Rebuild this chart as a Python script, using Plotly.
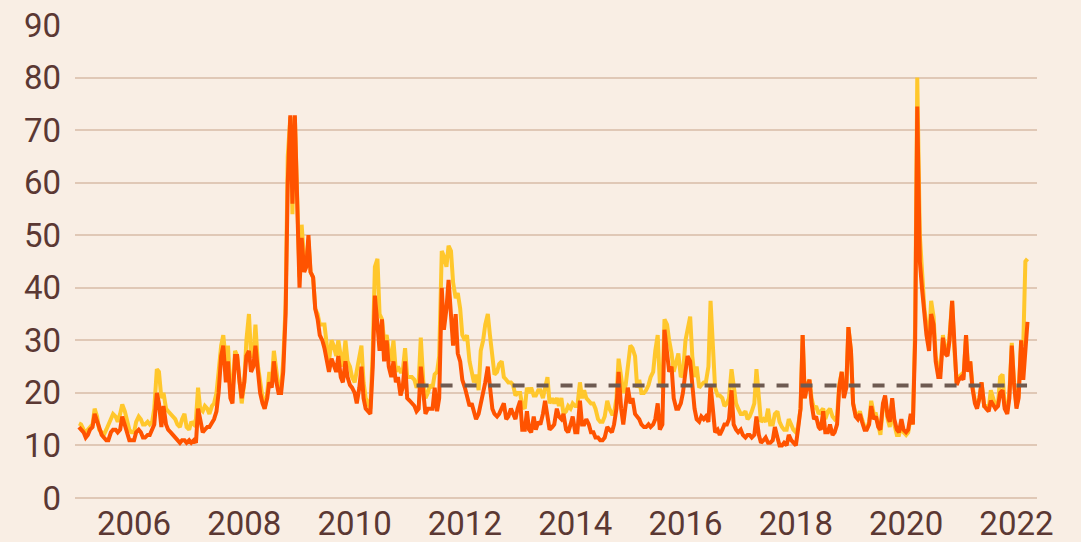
import pandas as pd
import plotly.graph_objects as go

# Semi-monthly readings (1st and 15th of each month), Jan 2005 - Mar 2022
yellow_2005 = [14.2, 14, 13, 12.5, 13, 13.5, 14, 17, 15.5, 13, 12.5, 12, 13, 14, 15, 16, 15.5, 14.5, 16, 17.8, 16.5, 14.5, 13, 12.5]
orange_2005 = [13.5, 13, 12.5, 11.5, 12, 13, 13.5, 16, 14.5, 13, 12, 11.5, 11, 11, 12.5, 13, 13, 12.5, 13, 15.5, 14, 12.5, 11, 11]
yellow_2006 = [12.5, 14.5, 15.5, 15, 14, 14, 14.5, 14, 14.5, 17, 24.5, 24, 19, 20, 17, 16.5, 16, 15.5, 15, 14, 13.5, 15, 16, 13.5]
orange_2006 = [11, 12.5, 13, 12.5, 11.5, 11.5, 12, 12, 13, 14, 20, 18, 13.5, 17.5, 14, 13, 12.5, 12, 11.5, 11, 10.5, 11, 11, 10.5]
yellow_2007 = [13, 14.5, 14, 15, 21, 17, 16.5, 17.5, 17, 16, 17.5, 18, 20, 24, 29, 31, 26, 29, 21, 20, 28, 27, 23, 18]
orange_2007 = [11, 10.5, 11, 10.5, 17, 15, 12.5, 13, 13.5, 13.5, 14.5, 15, 16.5, 20, 27, 29, 22, 26, 19, 18, 27, 27, 22, 19]
yellow_2008 = [22, 30, 35, 27, 27, 33, 25, 22, 19, 17, 20, 24, 22, 28, 24, 21, 21, 26, 37, 65, 72.5, 54, 72.5, 55]
orange_2008 = [22, 27, 28, 24, 25, 29, 24, 20, 18, 17, 19, 22, 21, 26, 22, 20, 20, 24, 35, 60, 72.8, 56, 72.8, 60]
yellow_2009 = [42, 52, 45, 44, 49, 43, 42, 36, 35, 33, 33, 33, 29, 26, 30, 29, 27, 30, 27, 25, 30, 26, 25, 23]
orange_2009 = [40, 49.5, 43, 44, 50, 43, 42, 36, 34, 31, 30, 28.5, 26, 24, 26.5, 25.5, 24, 27, 23, 22, 26, 23, 21.5, 21]
yellow_2010 = [22, 24, 27, 29, 22, 19, 18, 17, 28, 44, 45.5, 35, 34, 30, 31, 28, 26, 30, 24, 25, 24, 24, 28.5, 23]
orange_2010 = [20, 18, 21, 25, 19, 17, 16.5, 16, 25, 38.5, 33, 28, 34, 26, 30, 25, 23, 26, 22, 23, 19.5, 21, 26, 19]
yellow_2011 = [23, 23, 22.5, 21, 22, 30.5, 22, 19, 20, 21.5, 21, 23.5, 24, 27, 47, 46, 44, 48, 47, 41, 38, 39, 36, 31]
orange_2011 = [18.5, 18, 17.5, 16.5, 17, 25, 19, 16, 17, 17, 17, 21, 16.5, 19, 40, 32, 36, 41.5, 34, 29, 35, 27.5, 26, 22.5]
yellow_2012 = [30, 31, 26, 24, 22, 23.5, 20.5, 28, 30, 33, 35, 31, 26, 23.5, 24, 25.5, 26, 23, 22.5, 22, 22, 21.5, 19.5, 20]
orange_2012 = [21, 19, 17.5, 18, 16, 15, 16, 18, 19.5, 22, 25, 21, 17, 16, 15.5, 16, 17, 18, 15, 15.5, 17, 16, 15, 17]
yellow_2013 = [20, 17.5, 17, 21, 20, 21, 19.5, 19.5, 20.5, 20.5, 19, 21, 23, 18, 19, 18, 19, 17.5, 19, 16, 16.5, 17.5, 17, 18]
orange_2013 = [18.5, 13, 13, 16.5, 13, 12.5, 15.5, 13, 14.5, 14, 16, 18.5, 15, 13, 13.5, 14, 17, 15.5, 15, 16, 13, 12.5, 14, 15.5]
yellow_2014 = [17.5, 17.5, 22, 19, 20.5, 19, 18.5, 18, 18, 17, 15, 14.5, 14.5, 15.5, 18.5, 17, 16, 16, 19, 26.5, 23, 20, 21.5, 25]
orange_2014 = [12.5, 12.5, 18.5, 14, 14, 15, 14, 12.5, 12.5, 11.5, 11.5, 11, 11, 11.5, 13.5, 13, 12.5, 14, 17, 24, 17, 14, 18, 21]
yellow_2015 = [29, 28.5, 27, 21, 22.5, 20, 20, 20.5, 21.5, 23, 24, 28, 31, 22, 21, 34, 33, 30, 27.5, 24, 26, 27.5, 23, 23.5]
orange_2015 = [18, 19, 16, 15.5, 15, 14, 13.5, 13.5, 14, 13.5, 14, 15, 18, 13, 14, 32, 27, 24, 25, 19, 17, 17, 18, 20]
yellow_2016 = [30, 32, 34.5, 27, 23, 25, 21, 21.5, 22, 22, 25, 37.5, 27, 21, 19.5, 19.5, 19, 17.5, 18, 19, 24.5, 21, 18, 17]
orange_2016 = [24, 27, 26, 22, 17, 15, 14.5, 15.5, 15, 15.5, 14.5, 21.5, 17, 12.5, 13, 12, 13, 14, 14, 15, 20.5, 14, 13, 12.5]
yellow_2017 = [16, 16, 16.5, 15, 15.5, 16.5, 18, 24.5, 18, 14.5, 15, 14.5, 17, 14, 14, 16, 16.5, 14.5, 13.5, 13, 13, 15, 14, 13]
orange_2017 = [13, 12, 11.5, 12, 12, 11.5, 12, 15.5, 12, 10.5, 11, 11.5, 10.5, 10.5, 11, 13.5, 11.5, 10, 10, 10.5, 10, 12, 11, 10.5]
yellow_2018 = [12.5, 13.5, 17, 31, 19, 21.5, 22.5, 19, 17, 17.5, 16, 16.5, 17, 15, 16.5, 17, 15.5, 15, 15.5, 21.5, 24, 20, 21.5, 32.5]
orange_2018 = [10, 13, 17, 31, 19, 21, 22.5, 18, 15, 15.5, 13.5, 13, 16.5, 12.5, 12.5, 14, 12, 12.5, 14, 21, 24, 19, 21, 32.5]
yellow_2019 = [28, 18, 16, 15.5, 16.5, 15, 13.5, 13, 14.5, 18.5, 16, 16, 14, 12, 17.5, 19, 15, 13.5, 18.5, 14, 12, 12, 14, 12.5]
orange_2019 = [28, 18, 15.5, 15, 16, 14.5, 13, 13, 14, 17.5, 15, 15.5, 13.5, 13, 18, 19.5, 15.5, 14.5, 19, 15, 13, 12.5, 15, 13]
yellow_2020 = [12, 12.5, 15.5, 14, 33, 80, 50, 43, 36, 33, 30, 37.5, 34.5, 27, 24.5, 24, 31, 28.5, 27.5, 31, 37.5, 28.5, 22, 23]
orange_2020 = [12.5, 13, 16, 14, 30, 74.5, 45, 40, 34, 31, 28, 35, 33, 26, 23, 23, 30.5, 27.5, 27, 30, 37.5, 28, 21.5, 22.5]
yellow_2021 = [23.5, 23, 31, 24.5, 26, 21.5, 18.5, 17.5, 19, 22, 17.5, 17.5, 17, 20.5, 18.5, 17.5, 18, 23, 23.5, 17.5, 16.5, 20, 29.5, 22.5]
orange_2021 = [23, 22.5, 31, 24, 26, 21, 18, 17, 19, 22, 17.5, 17, 16.5, 18.5, 17.5, 17, 17.5, 20, 20.5, 17, 16, 19, 29, 22]
yellow_2022 = [17.5, 19.5, 30, 29, 45, 45.5]
orange_2022 = [17, 19, 30, 22.5, 28, 33.5]

years = list(range(2005, 2023))
yellow = sum((globals()[f"yellow_{y}"] for y in years), [])
orange = sum((globals()[f"orange_{y}"] for y in years), [])
dates = pd.date_range(start="2005-01-01", periods=len(yellow), freq="SMS")

avg_level = 21.4
avg_dates = ["2011-02-15", "2022-03-12"]

TEXT = "#5b3833"
BG = "#f9eee4"
GRID = "#e0c8b6"
FONT = dict(family="Roboto", size=33, color=TEXT)

fig = go.Figure()
fig.add_trace(go.Scatter(x=dates, y=yellow, mode="lines",
                         line=dict(color="#ffc72c", width=4), name="yellow"))
fig.add_trace(go.Scatter(x=dates, y=orange, mode="lines",
                         line=dict(color="#ff5300", width=4), name="orange"))
fig.add_trace(go.Scatter(x=avg_dates, y=[avg_level, avg_level], mode="lines",
                         line=dict(color="#6e5a51", width=4, dash="12px,12px"), name="avg"))

fig.update_layout(
    width=1081, height=542,
    margin=dict(l=75, r=44, t=25, b=44, autoexpand=False),
    paper_bgcolor=BG, plot_bgcolor=BG,
    showlegend=False,
    font=FONT,
    xaxis=dict(type="date", range=["2004-12-06", "2022-05-17"],
               tick0="2006-01-01", dtick="M24", tickformat="%Y",
               showgrid=False, zeroline=False, showline=False, ticks="",
               automargin=False, ticklabelstandoff=3, tickfont=FONT),
    yaxis=dict(range=[0, 90], dtick=10, tick0=0,
               showgrid=True, gridcolor=GRID, gridwidth=2,
               zeroline=True, zerolinecolor=GRID, zerolinewidth=2,
               showline=False, ticks="", automargin=False,
               ticklabelstandoff=13, tickfont=FONT),
)

fig.write_html("out.html",
               config={"displayModeBar": False},
               post_script="document.body.style.margin='0';document.body.style.background='#f9eee4';")
